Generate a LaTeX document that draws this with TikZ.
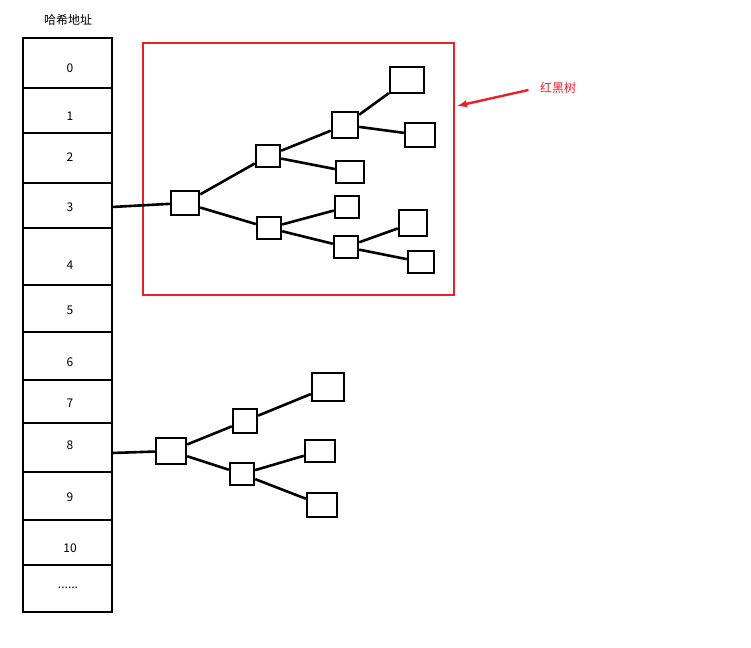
\documentclass[tikz,border=0pt]{standalone}
\usepackage{fontspec}
\setmainfont{Noto Sans CJK SC}
\usepackage{tikz}
\definecolor{hongse}{RGB}{232,32,40}
\tikzstyle{cell} = [draw, line width=2.4pt, inner sep=0pt]
\tikzstyle{link} = [line width=2.6pt]

\begin{document}
\begin{tikzpicture}[x=1pt, y=-1pt, font=\fontsize{12}{14}\selectfont]
    \useasboundingbox (0,0) rectangle (751,647);
    % hash array
    \draw[line width=2.6pt] (23,38) rectangle (112,612);
    \foreach \y in {88,133,183,228,285,332,380,423,472,520,565}
        \draw[line width=2.4pt] (23,\y) -- (112,\y);
    \node (head) at (68,20) {哈希地址};
    \foreach \t/\y in {0/68,1/116,2/157,3/207,4/265,5/310,6/362,7/403,8/445,9/497,10/548}
        \node (k\t) at (70,\y) {\t};
    \node (kdots) at (68,588) {......};
    \coordinate (s3) at (112,207);
    \coordinate (s8) at (112,453);
    % red-black tree
    \draw[hongse, line width=1.2pt] (143,43) rectangle (454,295);
    \node[text=hongse] (rbt) at (558,88) {红黑树};
    \coordinate (tip) at (457,106);
    \draw[hongse, line width=2.4pt, -latex] (rbt.west) ++(-8,2) -- (tip);
    \node[cell, minimum width=28pt, minimum height=24pt] (r) at (185,203) {};
    \node[cell, minimum width=24pt, minimum height=22pt] (a) at (268,156) {};
    \node[cell, minimum width=24pt, minimum height=22pt] (b) at (269,228) {};
    \node[cell, minimum width=26pt, minimum height=26pt] (c) at (345,125) {};
    \node[cell, minimum width=28pt, minimum height=22pt] (d) at (350,172) {};
    \node[cell, minimum width=24pt, minimum height=22pt] (e) at (347,207) {};
    \node[cell, minimum width=24pt, minimum height=22pt] (f) at (346,247) {};
    \node[cell, minimum width=34pt, minimum height=26pt] (g) at (407,80) {};
    \node[cell, minimum width=30pt, minimum height=24pt] (h) at (420,135) {};
    \node[cell, minimum width=28pt, minimum height=26pt] (i) at (413,223) {};
    \node[cell, minimum width=26pt, minimum height=22pt] (j) at (421,262) {};
    \draw[link] (s3) -- (r);
    \foreach \u/\v in {r/a,r/b,a/c,a/d,c/g,c/h,b/e,b/f,f/i,f/j}
        \draw[link] (\u) -- (\v);
    % linked tree at 8
    \node[cell, minimum width=30pt, minimum height=26pt] (r2) at (171,451) {};
    \node[cell, minimum width=24pt, minimum height=24pt] (a2) at (245,421) {};
    \node[cell, minimum width=24pt, minimum height=22pt] (b2) at (242,474) {};
    \node[cell, minimum width=32pt, minimum height=28pt] (c2) at (328,387) {};
    \node[cell, minimum width=30pt, minimum height=22pt] (d2) at (320,451) {};
    \node[cell, minimum width=30pt, minimum height=24pt] (e2) at (322,505) {};
    \draw[link] (s8) -- (r2);
    \foreach \u/\v in {r2/a2,r2/b2,a2/c2,b2/d2,b2/e2}
        \draw[link] (\u) -- (\v);
\end{tikzpicture}
\end{document}
